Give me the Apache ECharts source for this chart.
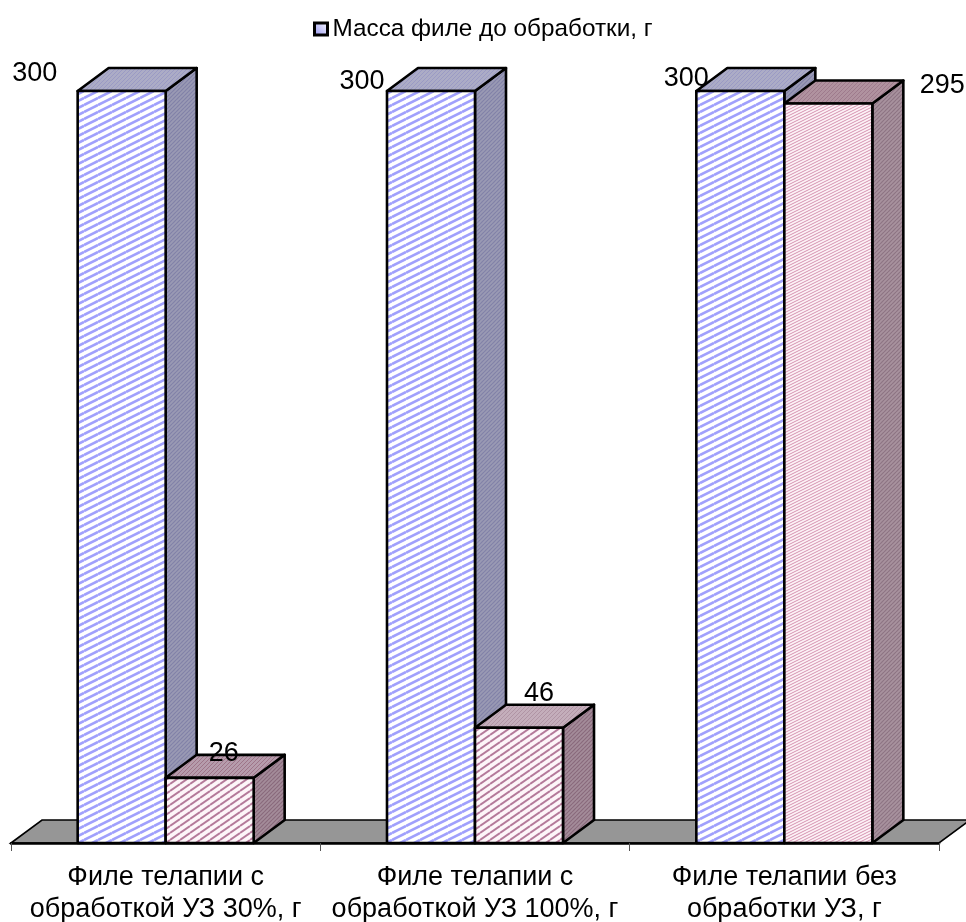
<!DOCTYPE html>
<html>
<head>
<meta charset="utf-8">
<style>html,body{margin:0;padding:0;background:#fff}#chart{width:966px;height:922px}</style>
<script src="https://cdn.jsdelivr.net/npm/echarts@6/dist/echarts.min.js"></script>
</head>
<body>
<div id="chart"></div>
<script>
// Fillet mass by treatment
const categories = ['Филе телапии с\nобработкой УЗ 30%, г', 'Филе телапии с\nобработкой УЗ 100%, г', 'Филе телапии без\nобработки УЗ, г'];
const beforeName = 'Масса филе до обработки, г';
const afterName = 'Масса филе после обработки, г';
const beforeValues = [300, 300, 300];
const afterValues = [26, 46, 295];

// Hand-placed data labels, offset from each bar's front top-left corner
const beforeLabelOffsets = [[-43, -17], [-25, -9], [-10, -12]];
const afterLabelOffsets = [[58, -24], [64, -34], [158, -18]];

const FONT = '"Liberation Sans", Arial, sans-serif';
const DEPTH_X = 31, DEPTH_Y = 23;
const BAR_SHARE = 88 / 309.33;

// Repeating hatch tile: diagonal stripes rising to the right
function hatch(w, h, fg, bg, lw) {
  const c = document.createElement('canvas');
  c.width = w; c.height = h;
  const g = c.getContext('2d');
  g.fillStyle = bg; g.fillRect(0, 0, w, h);
  g.strokeStyle = fg; g.lineWidth = lw;
  for (const dy of [-h, 0, h]) {
    g.beginPath(); g.moveTo(0, h + dy); g.lineTo(w, dy); g.stroke();
  }
  return { image: c, repeat: 'repeat' };
}

const fills = {
  before: {
    front: hatch(14, 7, '#a0a0fc', '#ffffff', 2.6),
    side: hatch(4, 4, '#8282a8', '#9a9ab4', 1.2),
    top: hatch(4, 4, '#9a9ac4', '#acacc6', 1)
  },
  after: [
    {
      front: hatch(10, 7, '#b47a9a', '#fdf6f9', 1.9),
      side: hatch(4, 4, '#8a6a7c', '#a48c9a', 1.2),
      top: hatch(4, 4, '#9e7488', '#b69cac', 1)
    },
    {
      front: hatch(10, 7, '#b47a9a', '#fdf6f9', 1.9),
      side: hatch(4, 4, '#8a6a7c', '#a48c9a', 1.2),
      top: hatch(4, 4, '#b094a4', '#c4aebb', 1)
    },
    {
      front: hatch(6, 3, '#d492b0', '#fdf1f6', 1),
      side: hatch(4, 4, '#8e7484', '#a8929e', 1.2),
      top: hatch(4, 4, '#9e7a8c', '#b0929f', 1)
    }
  ]
};

const outline = { stroke: '#000', lineWidth: 2.6, lineJoin: 'round' };

// One 3D column: side and top faces behind the front face, then its value label
function column(slot, fillFor, labelOffsets) {
  return function (params, api) {
    const cat = api.value(0), val = api.value(1);
    const band = api.size([1, 0])[0];
    const w = band * BAR_SHARE;
    const base = api.coord([cat, 0]);
    const top = api.coord([cat, val]);
    const x0 = base[0] + (slot - 1) * w;
    const x1 = x0 + w;
    const y0 = top[1], y1 = base[1];
    const f = fillFor(cat);
    const off = labelOffsets[cat];
    return {
      type: 'group',
      children: [
        { type: 'polygon', shape: { points: [[x1, y0], [x1 + DEPTH_X, y0 - DEPTH_Y], [x1 + DEPTH_X, y1 - DEPTH_Y], [x1, y1]] },
          style: Object.assign({ fill: f.side }, outline) },
        { type: 'polygon', shape: { points: [[x0, y0], [x0 + DEPTH_X, y0 - DEPTH_Y], [x1 + DEPTH_X, y0 - DEPTH_Y], [x1, y0]] },
          style: Object.assign({ fill: f.top }, outline) },
        { type: 'rect', shape: { x: x0, y: y0, width: w, height: y1 - y0 },
          style: Object.assign({ fill: f.front }, outline) },
        { type: 'text', z2: 50, style: { x: x0 + off[0], y: y0 + off[1], text: String(val),
          fill: '#000', font: '27px ' + FONT, align: 'center', verticalAlign: 'middle' } }
      ]
    };
  };
}

// Grey floor under the columns, sheared to the same depth as the bars
function floor(params, api) {
  const r = params.coordSys;
  const y = r.y + r.height, x0 = r.x, x1 = r.x + r.width;
  return {
    type: 'polygon',
    shape: { points: [[x0, y], [x0 + DEPTH_X, y - DEPTH_Y], [x1 + DEPTH_X, y - DEPTH_Y], [x1, y]] },
    style: { fill: '#969696', stroke: '#000', lineWidth: 1.6 }
  };
}

const chart = echarts.init(document.getElementById('chart'), null, { renderer: 'canvas' });
chart.setOption({
  animation: false,
  backgroundColor: '#fff',
  legend: {
    data: [{ name: beforeName, icon: 'rect',
      itemStyle: { color: new echarts.graphic.LinearGradient(1, 0, 0, 1, [{ offset: 0, color: '#ffffff' }, { offset: 1, color: '#9090f0' }]),
        borderColor: '#000', borderWidth: 3 } }],
    top: 12, left: 308,
    itemWidth: 13, itemHeight: 12, itemGap: 4,
    textStyle: { fontFamily: FONT, fontSize: 24.3, color: '#000' }
  },
  grid: { left: 11, top: 91, width: 928, height: 752, outerBoundsMode: 'none' },
  xAxis: {
    type: 'category',
    data: categories,
    z: 10,
    axisLine: { lineStyle: { color: '#000', width: 2.6 } },
    axisTick: { show: true, length: 8, lineStyle: { color: '#555', width: 1 } },
    axisLabel: { color: '#000', fontFamily: FONT, fontSize: 27, lineHeight: 32, margin: 19, interval: 0 }
  },
  yAxis: { type: 'value', min: 0, max: 300, show: false, splitLine: { show: false } },
  series: [
    { type: 'custom', name: 'floor', z: 1, silent: true, clip: false, renderItem: floor, data: [[0, 0]], encode: { x: 0, y: 1 } },
    { type: 'custom', name: beforeName, z: 2, clip: false, renderItem: column(0, () => fills.before, beforeLabelOffsets),
      data: beforeValues.map((v, i) => [i, v]), encode: { x: 0, y: 1 } },
    { type: 'custom', name: afterName, z: 3, clip: false, renderItem: column(1, i => fills.after[i], afterLabelOffsets),
      data: afterValues.map((v, i) => [i, v]), encode: { x: 0, y: 1 } }
  ]
});
</script>
</body>
</html>
